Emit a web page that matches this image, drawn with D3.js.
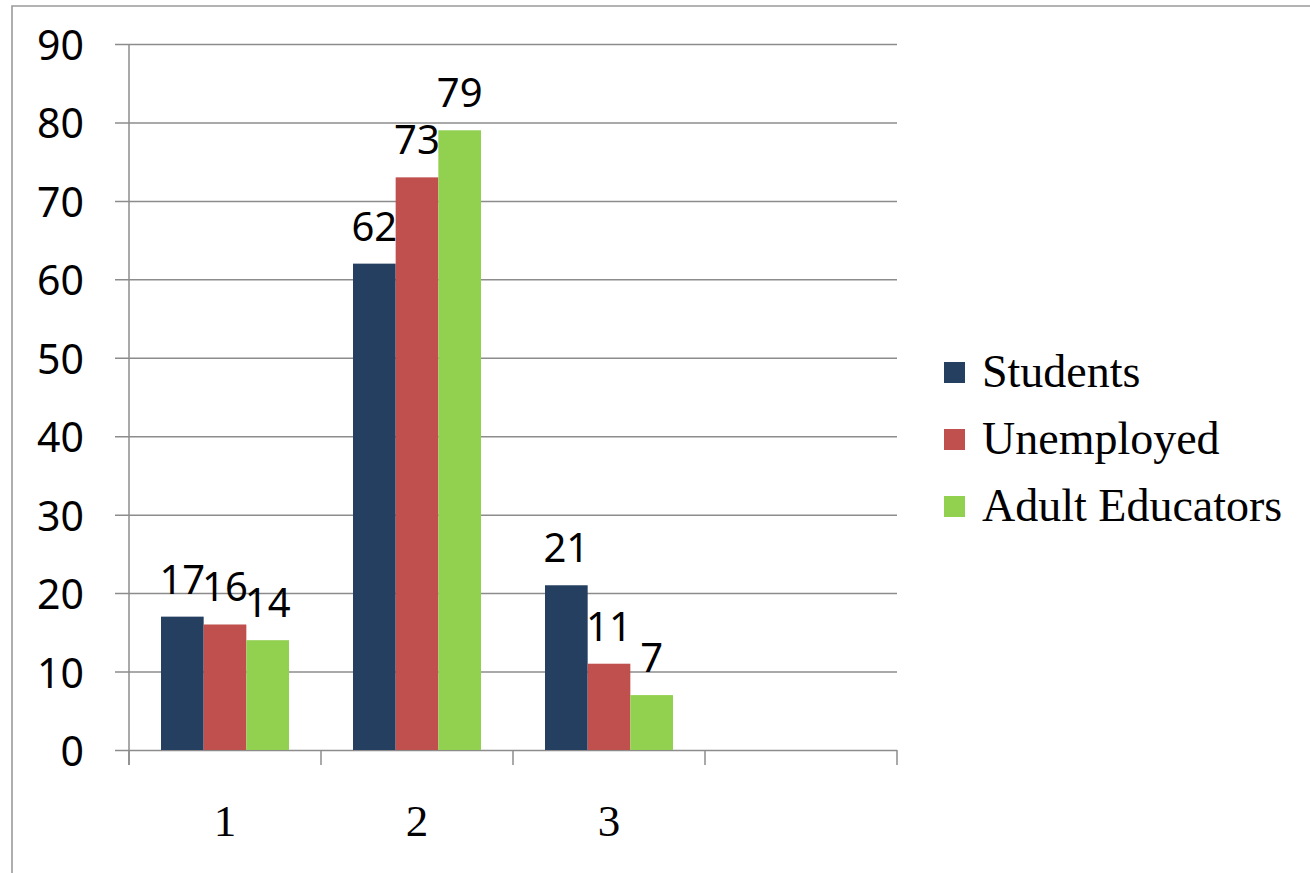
<!DOCTYPE html>
<html>
<head>
<meta charset="utf-8">
<script src="https://cdn.jsdelivr.net/npm/d3@7"></script>
<style>
  html, body { margin: 0; padding: 0; background: #fff; }
  svg { display: block; }
</style>
</head>
<body>
<svg id="chart" width="1310" height="873"></svg>
<script>
const categories = ["1", "2", "3", ""];
const seriesNames = ["Students", "Unemployed", "Adult Educators"];
const students = [17, 62, 21];
const unemployed = [16, 73, 11];
const adultEducators = [14, 79, 7];
const yTicks = [0, 10, 20, 30, 40, 50, 60, 70, 80, 90];
const colors = ["#243F60", "#C0504D", "#92D050"];

const seriesValues = [students, unemployed, adultEducators];

(function () {
const svg = d3.select("#chart");
const plotLeft = 129, plotRight = 897, plotTop = 44, plotBottom = 750;

// outer frame
svg.append("path")
  .attr("d", `M12,${873 + 5} L12,6 L${1310 + 5},6`)
  .attr("fill", "none").attr("stroke", "#9a9a9a").attr("stroke-width", 1.6);

const x0 = d3.scaleBand().domain(categories).range([plotLeft, plotRight]).padding(0);
const x1 = d3.scaleBand().domain(seriesNames)
  .range([x0.bandwidth() / 6, x0.bandwidth() * 5 / 6]).padding(0);
const y = d3.scaleLinear().domain([0, 90]).range([plotBottom, plotTop]);

const gridColor = "#8c8c8c";

// horizontal gridlines + y ticks
const yAxis = d3.axisLeft(y).tickValues(yTicks).tickSize(-(plotRight - plotLeft)).tickPadding(0).tickFormat("");
const gy = svg.append("g").attr("transform", `translate(${plotLeft},0)`).call(yAxis);
gy.select(".domain").remove();
gy.selectAll(".tick line").attr("stroke", gridColor).attr("stroke-width", 1.5)
  .attr("x1", -14);

// y axis line
svg.append("line").attr("x1", plotLeft).attr("x2", plotLeft).attr("y1", plotTop).attr("y2", plotBottom + 15)
  .attr("stroke", gridColor).attr("stroke-width", 1.5);

// y labels
svg.append("g").selectAll("text").data(yTicks).join("text")
  .attr("x", 84).attr("y", d => y(d))
  .attr("text-anchor", "end").attr("dominant-baseline", "central")
  .attr("font-family", "'Noto Sans', 'Open Sans', sans-serif")
  .attr("font-size", 41).attr("fill", "#000")
  .text(d => d);

// x ticks at band boundaries
const boundaries = categories.map(c => x0(c)).concat([plotRight]);
svg.append("g").selectAll("line").data(boundaries).join("line")
  .attr("x1", d => d).attr("x2", d => d).attr("y1", plotBottom).attr("y2", plotBottom + 15)
  .attr("stroke", gridColor).attr("stroke-width", 1.5);

// x labels
svg.append("g").selectAll("text").data(categories.filter(c => c !== "")).join("text")
  .attr("x", d => x0(d) + x0.bandwidth() / 2).attr("y", 836)
  .attr("text-anchor", "middle")
  .attr("font-family", "'Liberation Serif', 'Times New Roman', serif")
  .attr("font-size", 45).attr("fill", "#000")
  .text(d => d);

// bars
const barData = [];
seriesNames.forEach((s, si) => {
  seriesValues[si].forEach((v, ci) => {
    barData.push({ series: s, si, cat: categories[ci], value: v });
  });
});

svg.append("g").selectAll("rect").data(barData).join("rect")
  .attr("x", d => x0(d.cat) + x1(d.series))
  .attr("y", d => y(d.value))
  .attr("width", x1.bandwidth())
  .attr("height", d => y(0) - y(d.value))
  .attr("fill", d => colors[d.si]);

// data labels
svg.append("g").selectAll("text").data(barData).join("text")
  .attr("x", d => x0(d.cat) + x1(d.series) + x1.bandwidth() / 2)
  .attr("y", d => y(d.value) - 23)
  .attr("text-anchor", "middle")
  .attr("font-family", "'Noto Sans', 'Open Sans', sans-serif")
  .attr("font-size", 40).attr("fill", "#000")
  .text(d => d.value);

// legend
const legend = svg.append("g").selectAll("g").data(seriesNames).join("g")
  .attr("transform", (d, i) => `translate(944, ${387 + i * 67})`);
legend.append("rect").attr("x", 0).attr("y", -25).attr("width", 21).attr("height", 21)
  .attr("fill", (d, i) => colors[i]);
legend.append("text").attr("x", 38).attr("y", 0)
  .attr("font-family", "'Liberation Serif', 'Times New Roman', serif")
  .attr("font-size", 46).attr("fill", "#000")
  .text(d => d);
})();
</script>
</body>
</html>
